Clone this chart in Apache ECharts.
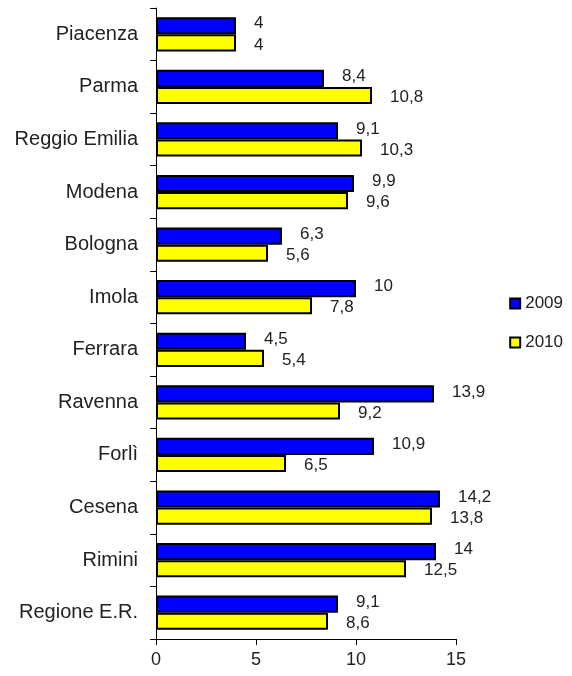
<!DOCTYPE html>
<html><head><meta charset="utf-8">
<script src="https://cdn.jsdelivr.net/npm/echarts@6/dist/echarts.min.js"></script>
<style>html,body{margin:0;padding:0;background:#fff}#c{width:572px;height:676px}</style>
</head><body><div id="c"></div>
<script>
const categories = ["Piacenza","Parma","Reggio Emilia","Modena","Bologna","Imola","Ferrara","Ravenna","Forlì","Cesena","Rimini","Regione E.R."];
const values2009 = [4, 8.4, 9.1, 9.9, 6.3, 10, 4.5, 13.9, 10.9, 14.2, 14, 9.1];
const values2010 = [4, 10.8, 10.3, 9.6, 5.6, 7.8, 5.4, 9.2, 6.5, 13.8, 12.5, 8.6];
const xTicks = [0, 5, 10, 15];

const FONT = "Liberation Sans";
const fmt = p => String(p.value).replace('.', ',');
const chart = echarts.init(document.getElementById('c'));
const mkSeries = (name, data, color, dy) => ({
  name, type: 'bar', data,
  barGap: '0%', barCategoryGap: '35%',
  itemStyle: { color, borderColor: '#000', borderWidth: 2 },
  label: { show: true, position: 'right', distance: 18, offset: [0, dy], formatter: fmt,
    color: '#222', fontFamily: FONT, fontSize: 17 }
});
chart.setOption({
  animation: false,
  textStyle: { fontFamily: FONT },
  grid: { left: 156, right: 116, top: 8, bottom: 37, containLabel: false },
  legend: {
    orient: 'vertical', right: 4, top: 290, itemGap: 22,
    itemWidth: 10, itemHeight: 10, icon: 'rect',
    textStyle: { fontFamily: FONT, fontSize: 17, color: '#222' },
    itemStyle: { borderColor: '#000', borderWidth: 2 },
    data: ['2009', '2010']
  },
  xAxis: {
    type: 'value', min: 0, max: 15, interval: 5,
    axisLine: { show: true, lineStyle: { color: '#000', width: 1 } },
    axisTick: { show: true, length: 6, lineStyle: { color: '#000' } },
    axisLabel: { color: '#222', fontSize: 18, fontFamily: FONT, margin: 12,
      formatter: v => xTicks.includes(v) ? String(v) : '' },
    splitLine: { show: false }
  },
  yAxis: {
    type: 'category', data: categories, inverse: true,
    axisLine: { show: true, lineStyle: { color: '#000', width: 1 } },
    axisTick: { show: true, length: 6, lineStyle: { color: '#000' } },
    axisLabel: { color: '#222', fontSize: 20, fontFamily: FONT, margin: 18 }
  },
  series: [
    mkSeries('2009', values2009, '#0000ff', -2),
    mkSeries('2010', values2010, '#ffff00', 2)
  ]
});
</script></body></html>
